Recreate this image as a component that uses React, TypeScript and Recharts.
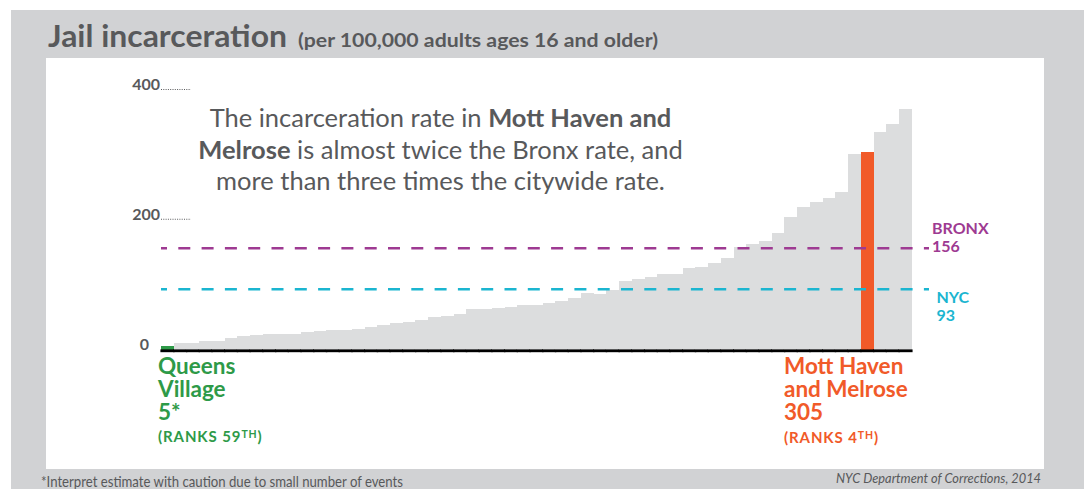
import React from "react";
import {
  ComposedChart,
  Bar,
  XAxis,
  YAxis,
  ReferenceLine,
} from "recharts";

// community districts, sorted from lowest to highest jail incarceration rate
const ranks = [
  59, 58, 57, 56, 55, 54, 53, 52, 51, 50, 49, 48, 47, 46, 45, 44, 43, 42, 41, 40,
  39, 38, 37, 36, 35, 34, 33, 32, 31, 30, 29, 28, 27, 26, 25, 24, 23, 22, 21, 20,
  19, 18, 17, 16, 15, 14, 13, 12, 11, 10, 9, 8, 7, 6, 5, 4, 3, 2, 1,
];
const rates = [
  5, 10, 10, 13, 13, 18, 21, 22, 24, 24, 24, 27, 29, 30, 30, 32, 34, 37, 41, 43,
  45, 50, 52, 54, 63, 63, 64, 66, 69, 69, 72, 74, 80, 87, 86, 92, 105, 109, 111, 116,
  116, 125, 127, 133, 141, 158, 162, 167, 179, 205, 219, 228, 233, 243, 302, 305, 335, 348, 371,
];
const yTicks = [0, 200, 400];
const bronxRate = 156;
const nycRate = 93;
const lowRank = 59; // Queens Village
const highRank = 4; // Mott Haven and Melrose

const data = ranks.map((rank, i) => ({ rank, rate: rates[i] }));

const GRAY_BG = "#d1d2d4";
const BAR_GRAY = "#dcddde";
const TEXT = "#58595b";
const GREEN = "#2e9a48";
const ORANGE = "#f15a29";
const PURPLE = "#9e3a92";
const CYAN = "#1bb5d0";
const FONT = "Lato, 'Open Sans', sans-serif";

const barColor = (rank: number) =>
  rank === lowRank ? GREEN : rank === highRank ? ORANGE : BAR_GRAY;

const BarShape = (props: any) => {
  const { x, y, width, height, payload } = props;
  return (
    <g>
      <rect
        x={x}
        y={y}
        width={width}
        height={height}
        fill={barColor(payload.rank)}
        shapeRendering="crispEdges"
      />
      <line
        x1={x - 0.6}
        x2={x + width + 0.6}
        y1={y + height + 1.3}
        y2={y + height + 1.3}
        stroke="#000"
        strokeWidth={2.8}
      />
    </g>
  );
};

const YTick = (props: any) => {
  const { y, payload } = props;
  if (payload.value === 0) {
    return (
      <text x={149} y={y} textAnchor="end" fontSize={16} fontWeight={700} fill={TEXT} fontFamily={FONT}>
        0
      </text>
    );
  }
  return (
    <g>
      <text x={160} y={y} textAnchor="end" fontSize={16} fontWeight={700} fill={TEXT} fontFamily={FONT}>
        {payload.value}
      </text>
      <line x1={161} x2={191} y1={y - 0.5} y2={y - 0.5} stroke={TEXT} strokeWidth={1} strokeDasharray="1 1.3" />
    </g>
  );
};

const refLabel = (top: string, bottom: string, color: string, dx: number, dyTop: number, dyBottom: number) =>
  (props: any) => {
    const vb = props.viewBox || {};
    const x = vb.x + vb.width + dx;
    return (
      <text fontFamily={FONT} fontSize={16} fontWeight={700} fill={color}>
        <tspan x={x} y={vb.y + dyTop}>{top}</tspan>
        <tspan x={x} y={vb.y + dyBottom}>{bottom}</tspan>
      </text>
    );
  };

export default function App() {
  return (
    <div
      style={{
        position: "absolute",
        left: 0,
        top: 0,
        width: 1084,
        height: 489,
        background: "#fff",
        overflow: "hidden",
        fontFamily: FONT,
      }}
    >
      <div style={{ position: "absolute", left: 11, top: 10, width: 1073, height: 479, background: GRAY_BG }} />
      <div style={{ position: "absolute", left: 46, top: 58, width: 998, height: 411, background: "#fff" }} />

      <div style={{ position: "absolute", left: 0, top: 0 }}>
        <ComposedChart
          width={1084}
          height={489}
          data={data}
          barCategoryGap={0}
          margin={{ top: 90, right: 155, bottom: 139.5, left: 121 }}
        >
          <XAxis dataKey="rank" hide padding={{ left: 0, right: 17.3 }} />
          <YAxis
            domain={[0, 400]}
            ticks={yTicks}
            width={40}
            axisLine={false}
            tickLine={false}
            tick={<YTick />}
            interval={0}
          />
          <Bar dataKey="rate" shape={<BarShape />} isAnimationActive={false} />
          <ReferenceLine
            y={bronxRate}
            stroke={PURPLE}
            strokeWidth={2.5}
            strokeDasharray="12 11.3"
            strokeDashoffset={6}
            label={refLabel("BRONX", String(bronxRate), PURPLE, 3, -14, 3.5)}
          />
          <ReferenceLine
            y={nycRate}
            stroke={CYAN}
            strokeWidth={2.5}
            strokeDasharray="12 11.3"
            strokeDashoffset={6}
            label={refLabel("NYC", String(nycRate), CYAN, 7.5, 13.5, 31.5)}
          />
        </ComposedChart>
      </div>

      <svg
        width={1084}
        height={489}
        style={{ position: "absolute", left: 0, top: 0, pointerEvents: "none" }}
        fontFamily={FONT}
      >
        <text x={48} y={47} fontSize={31} fontWeight={700} fill={TEXT} textLength={239} lengthAdjust="spacingAndGlyphs">
          Jail incarceration
        </text>
        <text x={298} y={47} fontSize={19} fontWeight={700} fill={TEXT} textLength={360} lengthAdjust="spacingAndGlyphs">
          (per 100,000 adults ages 16 and older)
        </text>

        <text textAnchor="middle" fontSize={25.5} fill={TEXT}>
          <tspan x={440.5} y={127}>
            The incarceration rate in <tspan fontWeight={700}>Mott Haven and</tspan>
          </tspan>
          <tspan x={440.5} y={158.5}>
            <tspan fontWeight={700}>Melrose</tspan> is almost twice the Bronx rate, and
          </tspan>
          <tspan x={440.5} y={190}>
            more than three times the citywide rate.
          </tspan>
        </text>

        <text fontWeight={700} fill={GREEN}>
          <tspan x={158} y={374} fontSize={22.5}>Queens</tspan>
          <tspan x={158} y={397} fontSize={22.5}>Village</tspan>
          <tspan x={158} y={420} fontSize={22.5}>5*</tspan>
          <tspan x={158} y={442} fontSize={15} letterSpacing={0.9}>
            (RANKS 59<tspan fontSize={10.5} dy={-4.5}>TH</tspan><tspan dy={4.5}>)</tspan>
          </tspan>
        </text>

        <text fontWeight={700} fill={ORANGE}>
          <tspan x={784} y={374} fontSize={22.5}>Mott Haven</tspan>
          <tspan x={784} y={397} fontSize={22.5}>and Melrose</tspan>
          <tspan x={784} y={420} fontSize={22.5}>305</tspan>
          <tspan x={784} y={443} fontSize={15} letterSpacing={0.9}>
            (RANKS 4<tspan fontSize={10.5} dy={-4.5}>TH</tspan><tspan dy={4.5}>)</tspan>
          </tspan>
        </text>

        <text x={41} y={487} fontSize={15} fill={TEXT} textLength={362} lengthAdjust="spacingAndGlyphs">
          *Interpret estimate with caution due to small number of events
        </text>
        <text
          x={836}
          y={483}
          fontSize={14}
          fontStyle="italic"
          fill={TEXT}
          textLength={205}
          lengthAdjust="spacingAndGlyphs"
        >
          NYC Department of Corrections, 2014
        </text>
      </svg>
    </div>
  );
}
